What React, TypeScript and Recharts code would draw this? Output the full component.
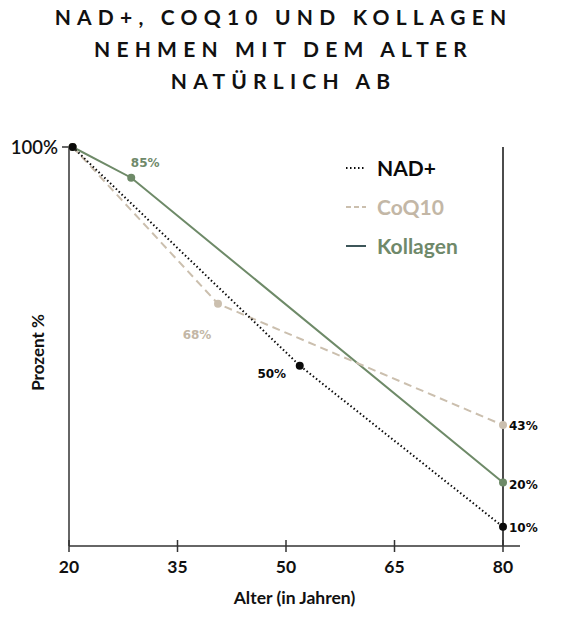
import React from "react";
import { LineChart, Line, XAxis, YAxis, ReferenceLine, Legend } from "recharts";

const titleLines = ["NAD+, COQ10 UND KOLLAGEN", "NEHMEN MIT DEM ALTER", "NATÜRLICH AB"];
const seriesNames = ["NAD+", "CoQ10", "Kollagen"];
const xTicks = [20, 35, 50, 65, 80];
const yTicks = [100];
const yTickLabels = ["100%"];
const xAxisTitle = "Alter (in Jahren)";
const yAxisTitle = "Prozent %";

// Ages (x) and plotted levels (y position), with printed labels
const nadAges = [20.5, 51.9, 80];
const nadLevels = [100, 45.2, 4.8];
const nadLabels = ["", "50%", "10%"];

const coqAges = [20.5, 40.6, 80];
const coqLevels = [100, 60.7, 30.3];
const coqLabels = ["", "68%", "43%"];

const kolAges = [20.5, 28.6, 80];
const kolLevels = [100, 92.3, 15.9];
const kolLabels = ["", "85%", "20%"];

const toRows = (ages: number[], levels: number[], labels: string[]) =>
  ages.map((age, i) => ({ age, level: levels[i], label: labels[i] }));

const nadData = toRows(nadAges, nadLevels, nadLabels);
const coqData = toRows(coqAges, coqLevels, coqLabels);
const kolData = toRows(kolAges, kolLevels, kolLabels);

const COLORS = {
  nad: "#0a0a0a",
  coq: "#cbbfae",
  coqText: "#c3b7a6",
  kol: "#6e8a68",
  kolText: "#6f896a",
  kolLegend: "#3d5659",
  axis: "#333333",
};

// label placement per series/index (styling only)
const labelPlacement: Record<string, { dx: number; dy: number; anchor: string; color: string }> = {
  "nad-1": { dx: -28, dy: 8, anchor: "middle", color: "#0a0a0a" },
  "nad-2": { dx: 6, dy: 1, anchor: "start", color: "#0a0a0a" },
  "coq-1": { dx: -21, dy: 31, anchor: "middle", color: "#c3b7a6" },
  "coq-2": { dx: 6, dy: 1, anchor: "start", color: "#0a0a0a" },
  "kol-1": { dx: 14, dy: -15, anchor: "middle", color: "#6f896a" },
  "kol-2": { dx: 6, dy: 2, anchor: "start", color: "#0a0a0a" },
};

const makeDot = (key: string, color: string) => (props: any) => {
  const { cx, cy, index, payload } = props;
  const place = labelPlacement[`${key}-${index}`];
  return (
    <g key={`${key}-dot-${index}`}>
      <circle cx={cx} cy={cy} r={4} fill={color} stroke="none" />
      {payload.label && place ? (
        <text
          x={cx + place.dx}
          y={cy + place.dy}
          textAnchor={place.anchor as any}
          dominantBaseline="central"
          fontFamily="DejaVu Sans, Verdana, sans-serif"
          fontWeight={700}
          fontSize={12}
          fill={place.color}
        >
          {payload.label}
        </text>
      ) : null}
    </g>
  );
};

const XTick = (props: any) => {
  const { x, y, payload } = props;
  return (
    <g>
      <line x1={x} x2={x} y1={y - 6} y2={y + 6} stroke={COLORS.axis} strokeWidth={1.5} />
      <text
        x={x}
        y={y + 20}
        textAnchor="middle"
        dominantBaseline="central"
        fontFamily="Lato, sans-serif"
        fontWeight={700}
        fontSize={17.5}
        fill="#111"
      >
        {payload.value}
      </text>
    </g>
  );
};

const legendSamples = [
  { name: seriesNames[0], line: COLORS.nad, text: "#0a0a0a", dash: "1.5 2.5" },
  { name: seriesNames[1], line: COLORS.coq, text: COLORS.coqText, dash: "5 3" },
  { name: seriesNames[2], line: COLORS.kolLegend, text: COLORS.kolText, dash: "" },
];

const LegendContent = () => (
  <div style={{ display: "flex", flexDirection: "column" }}>
    {legendSamples.map((s) => (
      <div key={s.name} style={{ display: "flex", alignItems: "center", height: 39 }}>
        <svg width={20} height={4} style={{ marginRight: 11 }}>
          <line x1={0} x2={20} y1={2} y2={2} stroke={s.line} strokeWidth={2} strokeDasharray={s.dash} />
        </svg>
        <span
          style={{
            fontFamily: "Lato, sans-serif",
            fontWeight: 700,
            fontSize: 21,
            color: s.text,
            lineHeight: "24px",
          }}
        >
          {s.name}
        </span>
      </div>
    ))}
  </div>
);

export default function App() {
  return (
    <div style={{ position: "absolute", left: 0, top: 0, width: 567, height: 617, background: "#fff" }}>
      <div
        style={{
          position: "absolute",
          left: 0,
          top: 1,
          width: 567,
          textAlign: "center",
          fontFamily: "Lato, sans-serif",
          fontWeight: 700,
          fontSize: 21,
          letterSpacing: 6.2,
          lineHeight: "32px",
          color: "#111",
        }}
      >
        {titleLines.map((t) => (
          <div key={t}>{t}</div>
        ))}
      </div>
      <div style={{ position: "absolute", left: 0, top: 0 }}>
        <LineChart width={567} height={617} margin={{ top: 147, right: 47, bottom: 41, left: 9 }}>
          <XAxis
            type="number"
            dataKey="age"
            domain={[20, 82.35]}
            ticks={xTicks}
            interval={0}
            height={30}
            tickSize={0}
            tickMargin={0}
            tickLine={false}
            tick={<XTick />}
            axisLine={{ stroke: COLORS.axis, strokeWidth: 1.5 }}
            label={{
              value: xAxisTitle,
              position: "bottom",
              offset: 16,
              style: { fontFamily: "Lato, sans-serif", fontWeight: 700, fontSize: 17.5, fill: "#111" },
            }}
          />
          <YAxis
            type="number"
            dataKey="level"
            domain={[0, 100]}
            ticks={yTicks}
            width={60}
            tickSize={7}
            tickMargin={4}
            tickFormatter={(v: number) => yTickLabels[yTicks.indexOf(v)] ?? ""}
            tick={{ fontFamily: "Lato, sans-serif", fontWeight: 600, fontSize: 18.5, fill: "#111" }}
            tickLine={{ stroke: COLORS.axis, strokeWidth: 1.5 }}
            axisLine={{ stroke: COLORS.axis, strokeWidth: 1.5 }}
            label={{
              value: yAxisTitle,
              angle: -90,
              position: "center",
              dx: -1,
              dy: 6,
              style: { fontFamily: "Lato, sans-serif", fontWeight: 700, fontSize: 17, fill: "#111" },
            }}
          />
          <ReferenceLine x={80} stroke="#111" strokeWidth={1.5} />
          <Legend
            layout="vertical"
            align="center"
            verticalAlign="middle"
            wrapperStyle={{ left: 346, top: 148, width: 200, height: 117 }}
            content={<LegendContent />}
          />
          <Line
            data={kolData}
            dataKey="level"
            name={seriesNames[2]}
            stroke={COLORS.kol}
            strokeWidth={2}
            dot={makeDot("kol", COLORS.kol)}
            activeDot={false}
            isAnimationActive={false}
          />
          <Line
            data={coqData}
            dataKey="level"
            name={seriesNames[1]}
            stroke={COLORS.coq}
            strokeWidth={2}
            strokeDasharray="8 5"
            dot={makeDot("coq", COLORS.coq)}
            activeDot={false}
            isAnimationActive={false}
          />
          <Line
            data={nadData}
            dataKey="level"
            name={seriesNames[0]}
            stroke={COLORS.nad}
            strokeWidth={2}
            strokeDasharray="1.5 2.5"
            dot={makeDot("nad", COLORS.nad)}
            activeDot={false}
            isAnimationActive={false}
          />
        </LineChart>
      </div>
    </div>
  );
}
